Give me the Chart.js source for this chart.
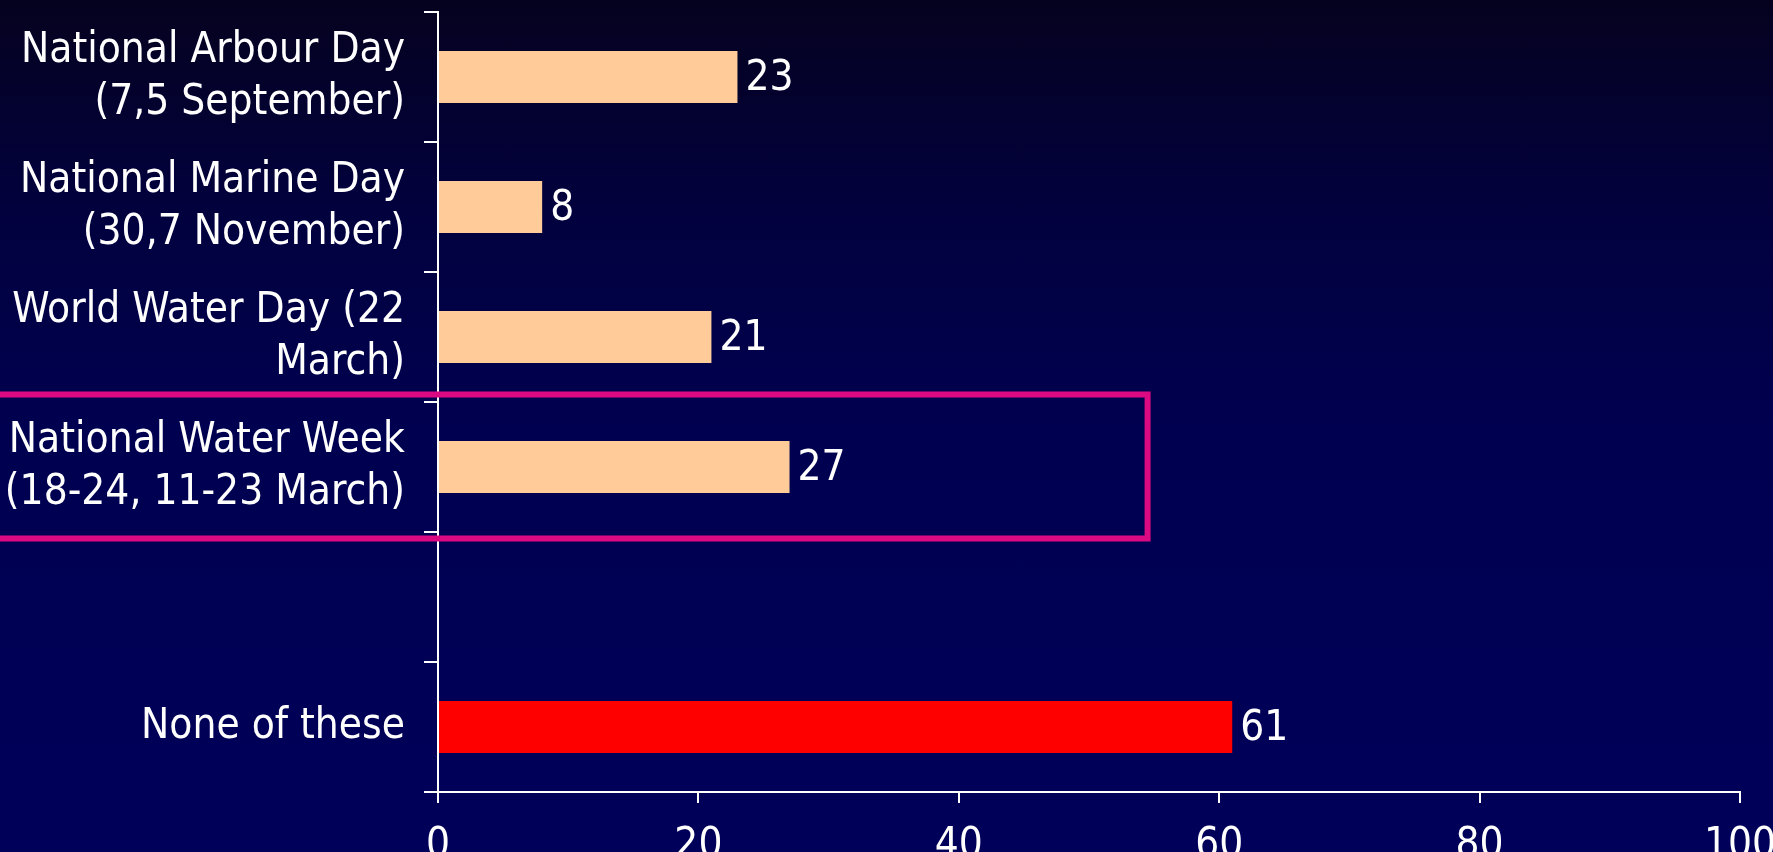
<!DOCTYPE html>
<html>
<head>
<meta charset="utf-8">
<title>Awareness days</title>
<script src="https://cdn.jsdelivr.net/npm/chart.js@4/dist/chart.umd.min.js"></script>
<style>
  html, body {
    margin: 0;
    padding: 0;
    overflow: hidden;
  }
  body {
    width: 1773px;
    height: 852px;
    background: linear-gradient(to bottom, #05021f 0%, #02013e 25%, #000050 50%, #00005a 100%);
  }
  #wrap {
    position: relative;
    width: 1773px;
    height: 852px;
  }
</style>
</head>
<body>
<div id="wrap"><canvas id="chart"></canvas></div>
<script>
'use strict';

const categories = [
  ['National Arbour Day', '(7,5 September)'],
  ['National Marine Day', '(30,7 November)'],
  ['World Water Day (22', 'March)'],
  ['National Water Week', '(18-24, 11-23 March)'],
  '',
  'None of these'
];
const values = [23, 8, 21, 27, null, 61];
const barColors = ['#ffcc99', '#ffcc99', '#ffcc99', '#ffcc99', '#ffcc99', '#ff0000'];
const xTicks = [0, 20, 40, 60, 80, 100];

// highlighted row and how far right its frame reaches (in axis units)
const highlightIndex = 3;
const highlightEnd = 54.5;

const FONT_FAMILY = "'DejaVu Sans Condensed', 'Liberation Sans', sans-serif";
const FONT_SIZE = 42;

const valueLabels = {
  id: 'valueLabels',
  afterDatasetsDraw(chart) {
    const ctx = chart.ctx;
    const meta = chart.getDatasetMeta(0);
    ctx.save();
    ctx.fillStyle = '#ffffff';
    ctx.font = FONT_SIZE + 'px ' + FONT_FAMILY;
    ctx.textAlign = 'left';
    ctx.textBaseline = 'middle';
    meta.data.forEach(function (bar, i) {
      if (values[i] === null) return;
      ctx.fillText(String(values[i]), bar.x + 8, bar.y + 2);
    });
    ctx.restore();
  }
};

const highlightFrame = {
  id: 'highlightFrame',
  afterDraw(chart) {
    const ctx = chart.ctx;
    const y = chart.scales.y;
    const x = chart.scales.x;
    const mid = y.getPixelForValue(highlightIndex);
    const right = x.getPixelForValue(highlightEnd);
    ctx.save();
    ctx.strokeStyle = '#dc0a82';
    ctx.lineWidth = 6;
    ctx.strokeRect(-10, mid - 72.5, right + 10, 144);
    ctx.restore();
  }
};

const ctx = document.getElementById('chart').getContext('2d');
new Chart(ctx, {
  type: 'bar',
  data: {
    labels: categories,
    datasets: [{
      data: values,
      backgroundColor: barColors,
      borderWidth: 0,
      barPercentage: 0.4,
      categoryPercentage: 1
    }]
  },
  options: {
    indexAxis: 'y',
    responsive: true,
    maintainAspectRatio: false,
    animation: false,
    layout: {
      padding: { top: 12, right: 33, left: 0, bottom: 0 }
    },
    plugins: {
      legend: { display: false },
      tooltip: { enabled: false }
    },
    scales: {
      x: {
        min: 0,
        max: 100,
        afterBuildTicks(scale) {
          scale.ticks = xTicks.map(function (v) { return { value: v }; });
        },
        afterFit(scale) {
          scale.height = 60;
          scale.paddingLeft = 0;
          scale.paddingRight = 0;
        },
        border: { display: true, color: '#ffffff', width: 2 },
        grid: {
          drawOnChartArea: false,
          drawTicks: true,
          tickLength: 11,
          color: '#ffffff',
          lineWidth: 2
        },
        ticks: {
          color: '#ffffff',
          padding: 18,
          maxRotation: 0,
          font: { family: FONT_FAMILY, size: FONT_SIZE }
        }
      },
      y: {
        afterFit(scale) {
          scale.width = 438;
          scale.paddingTop = 0;
          scale.paddingBottom = 0;
        },
        offset: true,
        border: { display: true, color: '#ffffff', width: 2 },
        grid: {
          offset: true,
          drawOnChartArea: false,
          drawTicks: true,
          tickLength: 14,
          color: '#ffffff',
          lineWidth: 2
        },
        ticks: {
          color: '#ffffff',
          padding: 19,
          autoSkip: false,
          font: { family: FONT_FAMILY, size: FONT_SIZE, lineHeight: 1.22 }
        }
      }
    }
  },
  plugins: [valueLabels, highlightFrame]
});
</script>
</body>
</html>
